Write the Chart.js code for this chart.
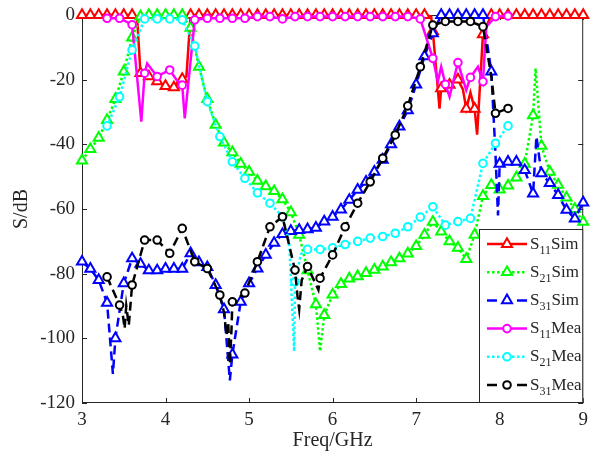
<!DOCTYPE html>
<html>
<head>
<meta charset="utf-8">
<script src="https://cdn.jsdelivr.net/npm/chart.js@4.4.0/dist/chart.umd.min.js"></script>
<style>
  body { margin: 0; background: #fff; }
  canvas { display: block; }
</style>
</head>
<body>
<canvas id="chart" width="591" height="461"></canvas>
<script>
// simulated curves: one marker every 0.1 GHz
const simFreq = [3.0, 3.1, 3.2, 3.3, 3.4, 3.5, 3.6, 3.7, 3.8, 3.9,
  4.0, 4.1, 4.2, 4.3, 4.4, 4.5, 4.6, 4.7, 4.8, 4.9,
  5.0, 5.1, 5.2, 5.3, 5.4, 5.5, 5.6, 5.7, 5.8, 5.9,
  6.0, 6.1, 6.2, 6.3, 6.4, 6.5, 6.6, 6.7, 6.8, 6.9,
  7.0, 7.1, 7.2, 7.3, 7.4, 7.5, 7.6, 7.7, 7.8, 7.9,
  8.0, 8.1, 8.2, 8.3, 8.4, 8.5, 8.6, 8.7, 8.8, 8.9, 9.0];

const s11Sim = [0, 0, 0, 0, 0, 0, 0, -18, -19, -20.5,
  -22, -22.4, -19.8, 0, 0, 0, 0, 0, 0, 0,
  0, 0, 0, 0, 0, 0, 0, 0, 0, 0,
  0, 0, 0, 0, 0, 0, 0, 0, 0, 0,
  0, 0, -5, -22.7, -21.6, -20, -29, -29, -6, 0,
  0, 0, 0, 0, 0, 0, 0, 0, 0, 0, 0];
const s21Sim = [-45, -41.5, -38, -32.5, -26, -17.5, -7, -0.5, 0, 0,
  0, 0, 0, -4, -16, -26, -34, -39.5, -42.5, -46,
  -48.5, -51.3, -53, -54.5, -57, -61, -68, -79, -89.5, -92.8,
  -86.5, -83.2, -81.5, -80.8, -79.8, -78.8, -77.8, -76.5, -75.3, -73.8,
  -71.5, -68, -64, -67, -70, -72, -75.5, -68, -56, -52.6,
  -54, -52.8, -50.3, -46, -31, -40.5, -48.5, -52.5, -56.5, -60, -64];
const s31Sim = [-76.3, -78.5, -82, -89, -100, -83, -75.3, -77, -79, -79,
  -78.5, -78.5, -78.5, -73.7, -76.5, -78, -83.5, -91, -105, -88.7,
  -83, -78.4, -74.2, -70.5, -67.8, -66.8, -66.5, -66.3, -65.8, -63.9,
  -62.4, -60.2, -57.2, -54.1, -51.6, -48.5, -44.8, -40, -34.5, -29.5,
  -21.5, -12.8, -5.7, 0, 0, 0, 0, 0, 0, -17.5,
  -46, -45.4, -45.4, -48, -55.2, -49, -52, -55.7, -60.3, -63, -58];

// narrow dips and peaks between simulated markers (line only)
const s11SimDipF = [3.66, 4.25, 7.18, 7.28, 7.56, 7.65, 7.73];
const s11SimDipDB = [-1, -19, -0.5, -29, -23, -24, -37];
const s21SimDipF = [5.85, 8.43];
const s21SimDipDB = [-104, -16.5];
const s31SimDipF = [3.37, 4.77, 7.95, 7.98, 8.44];
const s31SimDipDB = [-111, -113, -43, -62, -37.6];

// measured curves: one marker every 0.15 GHz
const meaFreq = [3.3, 3.45, 3.6, 3.75, 3.9, 4.05, 4.2, 4.35, 4.5, 4.65,
  4.8, 4.95, 5.1, 5.25, 5.4, 5.55, 5.7, 5.85, 6.0, 6.15,
  6.3, 6.45, 6.6, 6.75, 6.9, 7.05, 7.2, 7.35, 7.5, 7.65,
  7.8, 7.95, 8.1];

const s11Mea = [-1, -1, -3, -18, -19, -17, -21.7, -1.5, -1, -1,
  -1, -1, -0.5, -0.5, -1.2, -0.5, -0.5, -0.5, -0.5, -0.5,
  -0.5, -0.5, -0.5, -0.5, -0.5, -1.2, -13.4, -21.4, -14.7, -19.3,
  -20.6, -0.5, -0.3];
const s21Mea = [-34.3, -25.3, -10.8, -1.2, -1.2, -1.2, -1.5, -9.6, -26.8, -37.6,
  -45.4, -50.5, -55, -58.2, -62.4, -82.5, -72.5, -72.5, -72, -71,
  -70, -69, -68.5, -67.5, -65.5, -62.5, -59.3, -65, -63.9, -62.9,
  -45.9, -39.7, -34.3];
const s31Mea = [-81, -89.7, -83.5, -69.6, -69.6, -73.7, -66, -76.3, -78.4, -86.6,
  -88.7, -86, -76.3, -65.5, -62.4, -78.9, -77.8, -81.4, -74.2, -65.5,
  -58.2, -51.6, -44.3, -37.1, -28.1, -16, -3.1, -2, -2, -2,
  -3.6, -30.4, -28.9];

const s11MeaDipF = [3.71, 3.78, 4.13, 4.23, 7.26, 7.3, 7.4, 7.6, 7.74, 7.84];
const s11MeaDipDB = [-33, -15, -20, -32, -20.6, -16, -25.3, -23.2, -16, -3.6];
const s21MeaDipF = [5.48, 5.54, 5.62];
const s21MeaDipDB = [-70, -104, -74];
const s31MeaDipF = [3.49, 3.51, 3.53, 3.56, 4.7, 4.73, 4.75, 4.77, 4.79, 5.58, 5.6, 5.63, 5.83, 7.9];
const s31MeaDipDB = [-93, -97, -90, -96, -92, -99, -95, -108, -97, -87, -91, -82, -85, -19];

const xTicks = [3, 4, 5, 6, 7, 8, 9];
const yTicks = [0, -20, -40, -60, -80, -100, -120];

const FONT = '"Liberation Serif", "Times New Roman", serif';
const TXT = '#262626';

function buildPoints(f, db, dipF, dipDB) {
  const pts = f.map((v, i) => ({ x: v, y: db[i], m: true }));
  dipF.forEach((v, i) => pts.push({ x: v, y: dipDB[i], m: false }));
  return pts.sort((a, b) => a.x - b.x);
}

const series = [
  { sub: '11', name: 'Sim', color: '#ff0000', dash: [], marker: 'triangle', pts: buildPoints(simFreq, s11Sim, s11SimDipF, s11SimDipDB) },
  { sub: '21', name: 'Sim', color: '#00ff00', dash: [2.5, 2.5], marker: 'triangle', pts: buildPoints(simFreq, s21Sim, s21SimDipF, s21SimDipDB) },
  { sub: '31', name: 'Sim', color: '#0000ff', dash: [9, 5], marker: 'triangle', pts: buildPoints(simFreq, s31Sim, s31SimDipF, s31SimDipDB) },
  { sub: '11', name: 'Mea', color: '#ff00ff', dash: [], marker: 'circle', pts: buildPoints(meaFreq, s11Mea, s11MeaDipF, s11MeaDipDB) },
  { sub: '21', name: 'Mea', color: '#00ffff', dash: [2.5, 2.5], marker: 'circle', pts: buildPoints(meaFreq, s21Mea, s21MeaDipF, s21MeaDipDB) },
  { sub: '31', name: 'Mea', color: '#000000', dash: [9, 5], marker: 'circle', pts: buildPoints(meaFreq, s31Mea, s31MeaDipF, s31MeaDipDB) },
];

function markerRadius(s) {
  return s.marker === 'triangle' ? 5.8 : 3.8;
}

const datasets = series.map((s, i) => ({
  label: 'S' + s.sub + s.name,
  data: s.pts,
  order: series.length - i,
  borderColor: s.color,
  borderWidth: 2.5,
  borderDash: s.dash,
  pointStyle: s.marker,
  pointRadius: c => (c.raw && c.raw.m ? markerRadius(s) : 0),
  pointHoverRadius: 0,
  pointBorderColor: s.color,
  pointBackgroundColor: '#ffffff',
  pointBorderWidth: 2,
  tension: 0,
  fill: false,
  clip: false,
}));

function drawMarker(ctx, s, x, y) {
  const r = markerRadius(s);
  ctx.beginPath();
  if (s.marker === 'triangle') {
    for (let k = 0; k < 3; k++) {
      const a = k * 2 * Math.PI / 3;
      const px = x + Math.sin(a) * r, py = y - Math.cos(a) * r;
      if (k === 0) ctx.moveTo(px, py); else ctx.lineTo(px, py);
    }
    ctx.closePath();
  } else {
    ctx.arc(x, y, r, 0, Math.PI * 2);
  }
  ctx.fillStyle = '#fff';
  ctx.fill();
  ctx.setLineDash([]);
  ctx.lineWidth = 2;
  ctx.strokeStyle = s.color;
  ctx.stroke();
}

const framePlugin = {
  id: 'frame',
  beforeDatasetsDraw(chart) {
    const { ctx, chartArea: a, scales: { x, y } } = chart;
    ctx.save();
    ctx.strokeStyle = TXT;
    ctx.lineWidth = 1;
    ctx.strokeRect(a.left + 0.5, a.top + 0.5, a.right - a.left - 1, a.bottom - a.top - 1);
    ctx.beginPath();
    xTicks.forEach(v => {
      const px = Math.round(x.getPixelForValue(v)) + 0.5;
      ctx.moveTo(px, a.bottom); ctx.lineTo(px, a.bottom - 5);
      ctx.moveTo(px, a.top); ctx.lineTo(px, a.top + 5);
    });
    yTicks.forEach(v => {
      const py = Math.round(y.getPixelForValue(v)) + 0.5;
      ctx.moveTo(a.left, py); ctx.lineTo(a.left + 5, py);
      ctx.moveTo(a.right, py); ctx.lineTo(a.right - 5, py);
    });
    ctx.stroke();

    // axis titles
    ctx.fillStyle = TXT;
    ctx.font = '20px ' + FONT;
    ctx.textAlign = 'center';
    ctx.textBaseline = 'alphabetic';
    ctx.fillText('Freq/GHz', (a.left + a.right) / 2, 446);
    ctx.translate(27, 209);
    ctx.rotate(-Math.PI / 2);
    ctx.fillText('S/dB', 0, 0);
    ctx.restore();
  },
  afterDraw(chart) {
    const { ctx, chartArea: a } = chart;
    const box = { left: 479, top: 229, right: a.right, bottom: a.bottom };
    ctx.save();
    ctx.fillStyle = '#fff';
    ctx.fillRect(box.left, box.top, box.right - box.left, box.bottom - box.top);
    ctx.strokeStyle = TXT;
    ctx.lineWidth = 1;
    ctx.strokeRect(box.left + 0.5, box.top + 0.5, box.right - box.left - 1, box.bottom - box.top - 1);

    const rows = [244, 272.2, 300.4, 328.6, 356.8, 385];
    series.forEach((s, i) => {
      const yy = rows[i];
      ctx.beginPath();
      ctx.strokeStyle = s.color;
      ctx.lineWidth = 2.5;
      if (s.dash.length === 0) ctx.setLineDash([]);
      else if (s.dash[0] > 4) ctx.setLineDash([10, 20]);
      else ctx.setLineDash([2.5, 2.5]);
      ctx.moveTo(487, yy);
      ctx.lineTo(527, yy);
      ctx.stroke();
      drawMarker(ctx, s, 507, yy);

      ctx.fillStyle = TXT;
      ctx.textAlign = 'left';
      ctx.textBaseline = 'alphabetic';
      ctx.font = '17px ' + FONT;
      let tx = 530;
      ctx.fillText('S', tx, yy + 4.5);
      tx += ctx.measureText('S').width;
      ctx.font = '12px ' + FONT;
      ctx.fillText(s.sub, tx, yy + 9.5);
      tx += ctx.measureText(s.sub).width;
      ctx.font = '17px ' + FONT;
      ctx.fillText(s.name, tx, yy + 4.5);
    });
    ctx.restore();
  }
};

new Chart(document.getElementById('chart'), {
  type: 'line',
  data: { datasets },
  options: {
    responsive: false,
    animation: false,
    events: [],
    devicePixelRatio: 1,
    layout: { padding: { top: 15, right: 4, left: 0, bottom: 0 } },
    plugins: { legend: { display: false }, tooltip: { enabled: false } },
    scales: {
      x: {
        type: 'linear',
        min: 3,
        max: 9,
        afterFit: s => { s.height = 58; s.paddingLeft = 0; s.paddingRight = 0; },
        afterBuildTicks: s => { s.ticks = xTicks.map(v => ({ value: v })); },
        grid: { display: false, drawTicks: false },
        border: { display: false },
        ticks: { color: TXT, font: { family: FONT, size: 19 }, padding: 6, maxRotation: 0, autoSkip: false, callback: v => String(v) },
      },
      y: {
        min: -120,
        max: 0,
        afterFit: s => { s.width = 82; s.paddingTop = 0; s.paddingBottom = 0; },
        afterBuildTicks: s => { s.ticks = yTicks.map(v => ({ value: v })); },
        grid: { display: false, drawTicks: false },
        border: { display: false },
        ticks: { color: TXT, font: { family: FONT, size: 19 }, padding: 7, autoSkip: false, callback: v => String(v) },
      },
    },
  },
  plugins: [framePlugin],
});
</script>
</body>
</html>
